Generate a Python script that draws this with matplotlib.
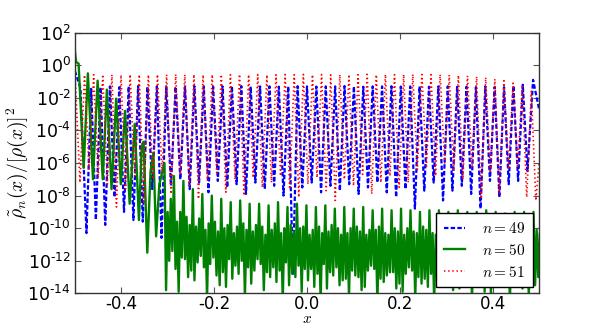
import numpy as np
import matplotlib
matplotlib.use("Agg")
import matplotlib.pyplot as plt
from matplotlib.ticker import FixedLocator, FuncFormatter

# ---------------- data (log10 of values) ----------------
# n = 49 (blue dashed): dip depths and peak heights
blue_dips = [-10.3, -9.5, -9.8, -8.1, -9.0, -9.5, -9.6, -7.6, -10.6, -7.4,
             -7.0, -7.6, -7.2, -7.8, -7.1, -7.5, -7.3, -7.9, -7.2, -7.6,
             -7.4, -8.0, -12.8, -7.5, -7.2, -7.8, -7.4, -7.7, -7.3, -7.9,
             -7.5, -7.2, -7.8, -8.1, -7.6, -8.8, -7.7, -7.2, -8.3, -7.7,
             -7.4, -7.9, -8.8, -7.1, -8.1, -7.3, -7.1, -6.5]
blue_peaks = [-1.45, -1.35, -1.3, -1.35, -1.3, -1.28, -1.32, -1.3, -1.3, -1.33,
              -1.3, -1.28, -1.3, -1.32, -1.3, -1.3, -1.28, -1.31, -1.3, -1.3,
              -1.32, -1.3, -1.29, -1.3, -1.31, -1.3, -1.3, -1.28, -1.3, -1.32,
              -1.3, -1.3, -1.29, -1.31, -1.3, -1.3, -1.32, -1.3, -1.3, -1.33,
              -1.32, -1.35, -1.3, -1.33, -1.35, -1.25, -1.2]
blue_left = [-0.35, -1.4]
blue_right = [-0.9, -2.7]

# n = 51 (red dotted)
red_dips = [-7.2, -6.4, -6.9, -7.3, -8.7, -7.6, -6.8, -8.5, -7.0, -6.6,
            -7.9, -6.7, -7.4, -8.2, -7.1, -6.6, -7.8, -7.0, -8.0, -6.9,
            -7.5, -7.2, -6.8, -7.6, -8.1, -7.3, -6.9, -7.7, -8.3, -7.0,
            -7.4, -6.7, -7.9, -7.2, -6.8, -7.5, -7.2, -6.4, -6.2, -6.8,
            -6.0, -6.5, -7.0, -6.3, -8.2, -6.6, -7.9, -6.4, -6.3, -8.1, -8.3]
red_peaks = [-0.6, -0.58, -0.57, -0.58, -0.6, -0.57, -0.58, -0.59, -0.57, -0.58,
             -0.56, -0.58, -0.57, -0.59, -0.58, -0.57, -0.58, -0.56, -0.58, -0.57,
             -0.59, -0.58, -0.57, -0.58, -0.56, -0.58, -0.57, -0.59, -0.58, -0.57,
             -0.58, -0.56, -0.58, -0.57, -0.58, -0.57, -0.56, -0.57, -0.58, -0.57,
             -0.6, -0.62, -0.65, -0.7, -0.75, -0.85, -0.95, -1.1, -1.3, -1.6]
red_left = [-0.35]
red_right = [-6.0]

# n = 50 (green solid): regular part near the left edge
green_left_x = [-0.5, -0.4975, -0.492, -0.481, -0.472, -0.461, -0.451, -0.440,
                -0.431, -0.421, -0.411, -0.401, -0.392, -0.382, -0.371, -0.362,
                -0.356, -0.352, -0.344, -0.337, -0.331, -0.325, -0.318]
green_left_y = [0.9, 0.2, 0.1, -6.3, -0.5, -7.0, -0.95, -7.0,
                -1.5, -7.6, -2.05, -7.3, -2.8, -8.5, -3.6, -9.5,
                -5.0, -4.7, -11.5, -6.5, -5.4, -10.5, -7.3]
# noisy part: per period [main peak, trough, bump, trough, bump, trough]
green_rows = [
    [-6.0, -13.8, -9.0, -12.0, -8.2, -11.4],
    [-6.8, -12.5, -9.6, -13.9, -9.0, -11.8],
    [-7.1, -11.9, -9.3, -13.0, -9.8, -12.6],
    [-7.6, -13.2, -9.9, -12.1, -9.4, -11.7],
    [-7.9, -12.4, -10.1, -14.3, -9.7, -12.2],
    [-8.0, -11.8, -9.6, -12.9, -10.2, -13.5],
    [-8.2, -12.7, -10.0, -13.6, -9.8, -11.9],
    [-8.4, -13.1, -10.3, -12.3, -9.9, -12.8],
    [-8.3, -12.0, -9.7, -14.2, -10.1, -12.4],
    [-8.5, -13.4, -10.2, -12.6, -9.8, -11.9],
    [-8.5, -12.2, -9.9, -13.8, -10.4, -12.7],
    [-8.6, -13.0, -10.1, -12.4, -9.7, -13.3],
    [-8.4, -12.6, -10.3, -14.4, -10.0, -12.1],
    [-8.7, -13.5, -9.8, -12.8, -10.2, -13.0],
    [-8.5, -12.3, -10.0, -13.9, -9.9, -12.5],
    [-8.6, -13.2, -10.4, -12.5, -10.1, -13.6],
    [-8.7, -12.8, -9.9, -14.5, -10.3, -12.2],
    [-8.6, -13.7, -10.2, -12.7, -9.8, -12.9],
    [-8.8, -12.4, -10.0, -13.5, -10.4, -13.2],
    [-8.7, -13.1, -10.3, -14.2, -10.0, -12.6],
    [-8.8, -12.9, -9.9, -13.0, -10.2, -13.8],
    [-8.7, -13.6, -10.4, -12.6, -10.1, -12.3],
    [-8.9, -12.5, -10.1, -14.6, -9.9, -13.1],
    [-8.8, -13.3, -10.3, -12.9, -10.4, -12.7],
    [-8.9, -12.7, -10.0, -13.7, -10.2, -13.4],
    [-8.8, -13.9, -10.4, -12.8, -10.0, -12.4],
    [-8.9, -12.6, -10.2, -14.3, -10.3, -13.0],
    [-9.0, -13.4, -9.9, -13.1, -10.1, -13.6],
    [-8.9, -12.8, -10.3, -14.5, -10.4, -12.5],
    [-8.9, -13.5, -10.1, -12.9, -10.0, -13.2],
    [-9.0, -12.9, -10.4, -13.8, -10.2, -12.8],
    [-8.9, -13.7, -10.0, -13.0, -10.3, -13.5],
    [-9.0, -12.6, -10.2, -14.4, -10.1, -12.7],
    [-9.0, -13.3, -10.4, -13.2, -10.0, -13.9],
    [-8.9, -12.9, -10.1, -14.1, -10.3, -12.6],
    [-9.0, -13.6, -10.3, -12.9, -10.2, -13.3],
    [-9.1, -12.8, -10.0, -14.6, -10.4, -12.9],
    [-9.0, -13.4, -10.2, -13.1, -10.1, -13.7],
    [-9.0, -12.7, -10.4, -14.2, -10.0, -12.8],
    [-9.0, -13.5, -10.1, -13.0, -10.3, -13.2],
]

labels = ["$n=49$", "$n=50$", "$n=51$"]
yticks_exp = [2, 0, -2, -4, -6, -8, -10, -12, -14]
xticks = [-0.4, -0.2, 0.0, 0.2, 0.4]

# ---------------- assemble vertex sequences ----------------
def interleave(dip_x, dips, peaks):
    xs, ys = [], []
    for i in range(len(dips)):
        xs.append(dip_x[i]); ys.append(dips[i])
        if i < len(peaks):
            xs.append(0.5 * (dip_x[i] + dip_x[i + 1])); ys.append(peaks[i])
    return xs, ys

bdx = np.linspace(-0.475, 0.475, len(blue_dips))
bx, by = interleave(bdx, blue_dips, blue_peaks)
bx = [-0.5, -0.488] + bx + [0.487, 0.5]
by = blue_left + by + blue_right

rdx = np.linspace(-0.489, 0.493, len(red_dips))
rx, ry = interleave(rdx, red_dips, red_peaks)
rx = [-0.5] + rx + [0.5]
ry = red_left + ry + red_right

gpx = np.linspace(-0.307, 0.488, len(green_rows))
step = gpx[1] - gpx[0]
gx, gy = list(green_left_x), list(green_left_y)
for p, row in zip(gpx, green_rows):
    for k, v in enumerate(row):
        gx.append(p + k * step / len(row)); gy.append(v)

bx, by = np.array(bx), 10.0 ** np.array(by)
rx, ry = np.array(rx), 10.0 ** np.array(ry)
gx, gy = np.array(gx), 10.0 ** np.array(gy)

# ---------------- plot ----------------
plt.rcParams["lines.scale_dashes"] = False
fig = plt.figure(figsize=(5.99, 3.26), dpi=100)
fig.patch.set_facecolor("white")
ax = fig.add_axes([0.125, 0.1, 0.775, 0.8])

ax.plot(bx, by, color="blue", lw=1.6, linestyle=(0, (3.2, 1.6)), label=labels[0])
ax.plot(gx, gy, color=(0, 0.5, 0), lw=1.7, linestyle="-", label=labels[1])
ax.plot(rx, ry, color="red", lw=1.2, linestyle=(0, (1.0, 2.0)), label=labels[2])

ax.set_yscale("log")
ax.set_xlim(-0.5, 0.5)
ax.set_ylim(1e-14, 1e2)


def yfmt(v, pos):
    e = int(round(np.log10(v)))
    if e < 0:
        return r"$\mathdefault{10^{\text{-}%d}}$" % (-e)
    return r"$\mathdefault{10^{%d}}$" % e


ax.yaxis.set_major_locator(FixedLocator([10.0 ** e for e in yticks_exp]))
ax.yaxis.set_minor_locator(FixedLocator([]))
ax.yaxis.set_major_formatter(FuncFormatter(yfmt))
ax.set_xticks(xticks)
ax.xaxis.set_major_formatter(FuncFormatter(lambda v, pos: "%.1f" % v if abs(v) > 1e-9 else "0.0"))
ax.tick_params(which="both", direction="in", top=True, right=True, length=4,
               labelsize=12.5, width=0.8, color="#555555")
ax.tick_params(axis="x", pad=1.5, labelsize=12)
ax.tick_params(axis="y", pad=3)
for s in ax.spines.values():
    s.set_color("#333333")
    s.set_linewidth(1.0)

ax.set_xlabel("$x$", fontsize=11, math_fontfamily="cm")
ax.xaxis.set_label_coords(0.5, -0.1255)
ax.xaxis.label.set_va("bottom")
ax.set_ylabel(r"$\tilde{\rho}_n(x)/[\rho(x)]^2$", fontsize=14, math_fontfamily="cm")
ax.yaxis.set_label_coords(-0.123, 0.5)
ax.yaxis.label.set_va("center")

leg = ax.legend(loc="lower right", fontsize=11, fancybox=False, framealpha=1,
                edgecolor="black", handlelength=1.4, handletextpad=1.1,
                borderpad=0.5, labelspacing=0.45, borderaxespad=0.4)
leg.get_frame().set_linewidth(1.0)
for t in leg.get_texts():
    t.set_math_fontfamily("cm")

fig.savefig("out.png", dpi=100, facecolor="white")
